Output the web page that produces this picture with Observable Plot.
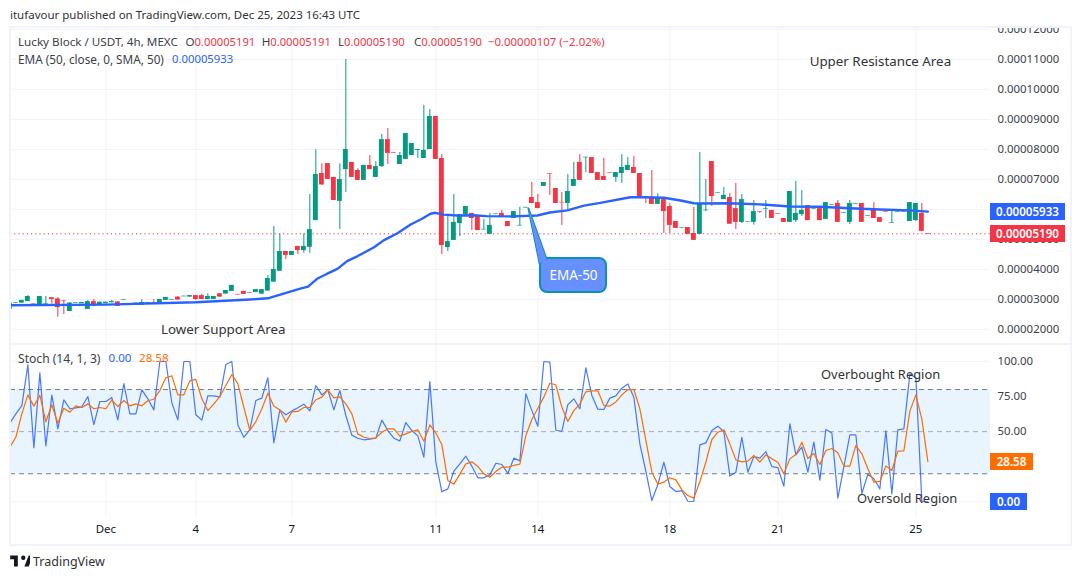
<!DOCTYPE html>
<html><head><meta charset="utf-8">
<script src="https://cdn.jsdelivr.net/npm/d3@7"></script>
<script src="https://cdn.jsdelivr.net/npm/@observablehq/plot@0.6"></script>
<style>
html,body{margin:0;padding:0;background:#fff;width:1080px;height:579px;overflow:hidden}
body{position:relative;font-family:"Noto Sans",sans-serif;color:#3c3f49}
.abs{position:absolute;white-space:pre}
.lg{font-size:11.65px}
.val{font-size:11.2px}
#frame{position:absolute;left:9px;top:26px;width:1059px;height:516px;border:2px solid #f0f3fa;pointer-events:none}
#sep{position:absolute;left:10px;top:343px;width:1060px;height:2px;background:#f0f3fa}
.badge{position:absolute;left:990px;color:#fff;font-weight:600;font-size:11.6px;text-align:center}
.red{color:#f23645}.blue{color:#2962ff}.or{color:#ff6d00}
#pricePanel,#stochPanel{position:absolute;left:0}
#pricePanel{top:27px}#stochPanel{top:345px}
</style></head><body>
<div class="abs" style="left:10px;top:7px;font-size:11.5px;color:#333">itufavour published on TradingView.com, Dec 25, 2023 16:43 UTC</div>
<div id="pricePanel"></div><div id="stochPanel"></div>
<div id="sep"></div><div id="frame"></div>
<div class="abs lg" style="left:18px;top:34px">Lucky Block / USDT, 4h, MEXC</div>
<div class="abs lg" style="left:185.5px;top:34px">O<span class="red val">0.00005191</span></div>
<div class="abs lg" style="left:261.7px;top:34px">H<span class="red val">0.00005191</span></div>
<div class="abs lg" style="left:338px;top:34px">L<span class="red val">0.00005190</span></div>
<div class="abs lg" style="left:414px;top:34px">C<span class="red val">0.00005190</span></div>
<div class="abs lg red" style="left:488px;top:34px;font-size:11.4px">−0.00000107 (−2.02%)</div>
<div class="abs" style="left:18px;top:51px;font-size:11.75px">EMA (50, close, 0, SMA, 50)</div>
<div class="abs blue" style="left:172px;top:51px;font-size:11.3px">0.00005933</div>
<div class="abs" style="left:18px;top:350px;font-size:12.1px">Stoch (14, 1, 3)</div>
<div class="abs blue" style="left:108.5px;top:350px;font-size:11.6px">0.00</div>
<div class="abs or" style="left:139px;top:350px;font-size:11.6px">28.58</div>
<div class="badge" style="top:203px;width:75px;height:17px;line-height:17px;background:#2962ff">0.00005933</div>
<div class="badge" style="top:225px;width:75px;height:17px;line-height:17px;background:#f23645">0.00005190</div>
<div class="badge" style="top:453px;width:43px;height:17px;line-height:17px;background:#ff6d00">28.58</div>
<div class="badge" style="top:493px;width:37px;height:17px;line-height:17px;background:#2962ff">0.00</div>
<svg class="abs" style="left:10px;top:555px" width="20" height="12" viewBox="0 0 36 22"><path fill="#131722" d="M14 1H0v7h7v13h7V1zm20 20h-8l8-20h8l-8 20zM24 9a4 4 0 1 0 0-8 4 4 0 0 0 0 8z"/></svg>
<div class="abs" style="left:33px;top:553px;font-size:12.5px;color:#333">TradingView</div>
<script>
// Prices in units of 0.00001 USDT, one entry per 4h candle
const opens=[2.67,2.88,2.88,2.93,2.85,2.83,2.84,3.06,3.02,2.95,
2.60,2.87,2.86,2.67,2.93,2.80,2.86,2.89,2.92,2.98,
2.85,2.81,2.81,2.87,2.90,2.87,2.97,2.98,3.08,3.09,
3.08,3.13,3.13,3.00,3.00,3.19,3.18,3.27,3.17,3.27,
3.21,3.23,3.18,3.28,3.58,3.94,4.60,4.47,4.77,4.63,
4.74,5.63,7.20,7.53,7.07,6.27,7.33,7.57,7.30,6.97,
7.47,7.07,7.43,8.33,7.89,7.50,7.67,7.80,7.97,7.70,
8.00,9.10,7.70,4.73,4.97,5.53,5.83,5.87,5.80,5.32,
5.17,5.83,5.87,5.60,5.70,5.45,6.05,6.40,6.23,6.77,
7.19,6.70,6.24,6.20,6.77,7.57,7.72,7.73,7.23,7.10,
7.23,7.07,7.20,7.30,7.40,7.20,6.42,6.40,6.17,6.33,
6.10,5.60,5.37,5.40,5.20,5.17,5.96,7.60,6.54,6.33,
6.40,6.03,5.57,5.58,5.57,5.93,6.01,5.97,5.86,5.70,
5.57,5.63,5.83,6.13,6.01,6.03,5.67,6.14,6.20,5.88,
5.57,6.18,6.20,5.78,5.97,5.73,5.93,5.54,5.91,5.91,
5.60,5.63,5.87,5.20];
const closes=[2.88,2.90,2.97,3.10,2.83,3.10,2.86,3.00,2.73,2.93,
2.88,2.89,2.90,2.93,2.77,2.91,2.91,2.93,2.77,3.00,
2.81,2.88,2.90,2.90,2.85,3.00,3.07,3.00,2.98,3.11,
3.13,3.00,3.00,3.10,3.10,3.08,3.30,3.47,3.15,3.17,
3.23,3.33,3.33,3.70,4.00,4.60,4.47,4.60,4.63,4.77,
5.33,7.17,6.82,7.00,6.30,7.00,8.00,7.07,6.97,7.47,
7.33,7.43,8.33,7.87,7.87,7.80,8.53,8.20,8.00,7.97,
9.10,7.67,4.80,4.93,5.57,5.83,6.10,5.70,5.30,5.34,
5.47,5.85,5.77,5.43,5.93,5.47,6.07,6.20,6.03,6.90,
7.17,6.20,6.22,6.60,7.00,6.97,7.74,7.20,6.97,6.97,
7.21,7.23,7.40,7.47,7.20,6.40,6.40,6.17,6.40,5.93,
5.47,5.37,5.39,5.17,4.97,6.20,5.98,6.43,6.56,6.47,
5.51,5.57,6.33,5.60,5.93,5.91,6.03,5.70,5.84,5.57,
6.60,5.87,5.97,5.63,6.03,5.63,6.23,6.16,5.57,5.90,
6.20,6.20,5.57,5.80,5.70,5.57,5.91,5.56,5.93,5.93,
6.23,6.20,5.27,5.18];
const highs=[2.88,2.90,2.97,3.13,2.85,3.10,3.10,3.06,3.06,2.97,
2.90,2.89,2.90,2.96,3.00,2.91,2.91,2.97,2.92,3.00,
2.85,2.88,3.00,2.90,3.00,3.00,3.07,3.00,3.10,3.11,
3.13,3.13,3.17,3.19,3.10,3.19,3.30,3.47,3.17,3.27,
3.23,3.33,3.33,3.80,5.43,5.19,4.60,4.60,4.77,5.19,
6.50,7.99,7.52,7.53,7.07,7.52,11.00,7.57,7.36,7.47,
7.80,7.60,8.50,8.70,7.89,7.90,8.53,8.20,8.00,9.47,
9.33,9.10,7.83,5.80,6.50,5.83,6.10,5.87,5.80,5.67,
5.87,5.85,5.97,5.60,5.93,6.07,6.07,6.90,6.50,6.90,
7.19,6.70,6.57,7.17,7.57,7.83,7.74,7.73,7.23,7.70,
7.23,7.23,7.83,7.73,7.77,7.20,6.42,7.30,6.53,6.40,
6.20,5.60,5.39,5.40,6.07,7.90,7.00,7.60,6.56,6.73,
6.53,6.87,6.50,5.60,6.30,5.93,6.30,5.97,5.86,5.70,
6.60,6.93,6.63,6.13,6.03,6.03,6.23,6.16,6.30,5.90,
6.30,6.20,6.20,5.80,6.23,5.73,5.93,5.93,5.93,5.93,
6.23,6.20,6.20,5.20];
const lows=[2.67,2.88,2.88,2.93,2.83,2.83,2.84,2.85,2.41,2.50,
2.60,2.87,2.86,2.67,2.77,2.80,2.86,2.89,2.77,2.98,
2.81,2.81,2.81,2.87,2.85,2.87,2.97,2.98,2.98,3.09,
3.08,2.97,3.00,3.00,3.00,3.08,3.18,3.27,3.15,3.17,
3.21,3.23,3.18,3.28,3.58,3.94,4.33,4.47,4.50,4.54,
4.54,5.63,6.80,7.00,6.30,5.33,6.57,7.07,6.97,6.97,
7.33,7.07,7.40,7.50,7.87,7.50,7.67,7.80,7.70,7.70,
8.00,7.67,4.50,4.60,4.97,5.10,5.83,5.30,5.30,5.32,
5.17,5.83,5.77,5.43,5.70,5.45,6.05,6.20,6.03,6.77,
6.47,6.20,5.47,5.97,6.77,6.97,7.23,7.20,6.97,6.97,
7.21,6.90,6.87,7.30,7.20,6.40,6.20,6.17,6.17,5.20,
5.20,5.37,5.37,5.17,4.97,5.17,5.93,6.10,6.54,6.33,
5.51,5.33,5.53,5.58,5.48,5.87,5.70,5.70,5.84,5.57,
5.57,5.57,5.77,5.63,6.01,5.63,5.67,6.14,5.57,5.88,
5.50,6.18,5.57,5.78,5.70,5.57,5.91,5.54,5.91,5.91,
5.60,5.60,5.27,5.18];
// EMA-50 read at candle positions
const emaIdx=[0,16,31,40,43,48.4,49.7,51.2,52.9,54.6,56.2,57.9,60.7,62.3,64.6,66.8,68.7,70.1,70.9,72.3,74.5,77.3,79.4,83.8,87.9,90,92.9,95.7,98.4,103.4,105.7,109,111.8,114,115,120,125,130,135,140,145,150,153];
const emaVal=[2.81,2.83,2.91,3.00,3.04,3.36,3.43,3.69,3.86,4.02,4.28,4.44,4.74,4.97,5.21,5.50,5.69,5.86,5.89,5.83,5.80,5.81,5.78,5.77,5.80,5.90,5.97,6.13,6.22,6.41,6.41,6.39,6.30,6.21,6.20,6.21,6.17,6.10,6.09,6.04,6.00,5.97,5.93];
// Stochastic %K and %D
const stochK=[56,62.7,68.6,97.6,38.5,91.9,39.9,76,52,72.7,
66.3,67,67.7,75,55,71.5,71.5,74.3,58.4,84.3,
62.7,62.7,79.8,73.4,65.5,100,100,70.5,58.4,100,
100,62,58.2,75.5,75.5,74.6,97.9,100,54.8,46,
51.5,72.2,73.9,88.4,42,65.5,62,64.8,67,69.6,
64.8,82.9,76.2,79.8,65.5,79.3,61.5,47.5,45.3,44.2,
44.6,45.3,58.2,50.8,45.3,43.4,56.5,50.8,47,31.8,
85.7,28.2,7.1,9.2,21.8,27,32.5,25.4,17.1,17.1,
19.2,27.5,26.6,20.2,31.1,29.2,76.9,65,53.9,100,
99.5,51,50.3,69.3,73.4,66.3,95.5,75.8,66,65.8,
73.9,75.5,81,84,74.6,41.3,21.6,0.9,12.3,28.2,
10.9,7.3,8,0.4,0.2,40.6,42,50.8,53.9,50.1,
18.3,21.1,46,21.1,32.3,31.1,35.8,25.1,24.4,11.1,
55.6,33.5,38.9,21.1,42.5,15.4,51.5,49.1,2.6,25.1,
47.7,47.7,5.9,19.7,16.4,9.2,50.6,5.7,51.3,52,
91,88.4,0.2,0];
const stochD=[38.9,46,62.7,76.2,68.2,76,57,69,56,66.7,
63.9,68.4,67.2,69.8,66.3,67.2,66.3,72.7,67.9,72.2,
68.4,69.8,68.4,72,73.1,79.3,88.4,89.8,76.2,76.2,
86.2,87.2,73.4,65,69.8,75,82.9,90.7,84,67.4,
50.8,57.2,66.3,77.4,68.2,65.5,56.8,64.1,64.4,67.2,
67.2,72.7,74.6,79.8,74.1,74.8,69.8,62.7,48.4,46,
45.1,45.6,49.6,52,52,46.8,48.4,50.1,51.3,43.2,
54.8,49.1,40.6,15.2,12.6,19.7,27,28.5,25.2,19.9,
17.5,21.6,24.7,24.7,25.9,26.8,47.2,58.7,66.7,74.6,
84.5,83.4,67.4,57.2,65,69.8,78.4,79.1,79.1,68.6,
68.2,71.2,76.2,80,80,66.3,43.7,21.1,12.6,14,
17.1,15.6,8.5,4.5,2.6,14.5,28.2,44.4,49.6,51.3,
41.3,29.9,28.5,29,33,28.2,33.5,30.6,28.2,19.9,
30.6,33.7,42.5,30.9,34.4,26.6,36.6,38,34.9,25.4,
25.4,40.1,34.2,23.5,14,14.5,25.6,22.3,36.1,36.3,
64.6,76.2,58.7,28.58];
const dayTicks=[16,31,47,71,88,110,128,151];
const dayLabels=["Dec","4","7","11","14","18","21","25"];
const priceTicks=[2,3,4,5,6,7,8,9,10,11,12];
const stochTicks=[0,25,50,75,100];
const lastClose=5.19;

const UP="#089981",DOWN="#f23645",GRID="#f0f3fa",FONT='"Noto Sans",sans-serif';
const xDom=[0.11,163.44];
const candles=opens.map((o,i)=>({i,o,c:closes[i],h:highs[i],l:lows[i],col:closes[i]>=o?UP:DOWN}));
const ema=emaIdx.map((i,k)=>({i,v:emaVal[k]}));
const stoch=stochK.map((k,i)=>({i,k,d:stochD[i]}));
const callout=[{i:86.44,v:6.03},{i:89.4,v:4.37},{i:88.3,v:4.2}];

const priceChart=Plot.plot({
  width:1080,height:317,marginLeft:10,marginRight:90,marginTop:0,marginBottom:0,
  style:{fontFamily:FONT,fontSize:"11.4px",background:"transparent",color:"#3c3f49"},
  x:{domain:xDom,axis:null},
  y:{domain:[1.5,12.0667],label:null},
  marks:[
    Plot.ruleX(dayTicks,{stroke:GRID}),
    Plot.ruleY(priceTicks,{stroke:GRID}),
    Plot.axisY(priceTicks,{anchor:"right",tickSize:0,tickPadding:7,label:null,tickFormat:d=>(d*1e-5).toFixed(8),fill:"#3c3f49"}),
    Plot.ruleY([lastClose],{stroke:DOWN,strokeDasharray:"1.2,3",strokeWidth:1}),
    Plot.ruleX(candles,{x:"i",y1:"l",y2:"h",stroke:"col",clip:true}),
    Plot.rect(candles,{x1:d=>d.i-0.41,x2:d=>d.i+0.41,y1:"o",y2:"c",fill:"col",clip:true}),
    Plot.line(ema,{x:"i",y:"v",stroke:"#2962ff",strokeWidth:2.4,clip:true}),
    Plot.line(callout,{x:"i",y:"v",stroke:"#0e8fb5",strokeWidth:2,fill:"#6690ff",curve:"linear-closed"}),
    Plot.rect([{a:88.44,b:99.44,lo:3.23,hi:4.37}],{x1:"a",x2:"b",y1:"lo",y2:"hi",fill:"#6690ff",stroke:"#0e8fb5",strokeWidth:2,rx:7}),
    Plot.line(callout,{x:"i",y:"v",fill:"#6690ff",curve:"linear-closed"}),
    Plot.text([{i:93.94,v:3.8,t:"EMA-50"}],{x:"i",y:"v",text:"t",fill:"#fff",fontSize:13.5,textAnchor:"middle"}),
    Plot.text([{i:133.3,v:10.94,t:"Upper Resistance Area"}],{x:"i",y:"v",text:"t",fill:"#333",fontSize:13.35,textAnchor:"start"}),
    Plot.text([{i:25.2,v:2.0,t:"Lower Support Area"}],{x:"i",y:"v",text:"t",fill:"#333",fontSize:13.35,textAnchor:"start"})
  ]
});
document.getElementById("pricePanel").append(priceChart);

const stochChart=Plot.plot({
  width:1080,height:199,marginLeft:10,marginRight:90,marginTop:0,marginBottom:28,
  style:{fontFamily:FONT,fontSize:"11.4px",background:"transparent",color:"#3c3f49"},
  x:{domain:xDom,label:null},
  y:{domain:[-10.48,111.4],label:null},
  marks:[
    Plot.rect([{a:xDom[0],b:xDom[1],lo:20,hi:80}],{x1:"a",x2:"b",y1:"lo",y2:"hi",fill:"#2196f3",fillOpacity:0.1}),
    Plot.ruleX(dayTicks,{stroke:GRID}),
    Plot.ruleY(stochTicks,{stroke:GRID}),
    Plot.ruleY([80,20],{stroke:"#787b86",strokeDasharray:"5,4"}),
    Plot.ruleY([50],{stroke:"#a8abb5",strokeDasharray:"5,4"}),
    Plot.axisY(stochTicks,{anchor:"right",tickSize:0,tickPadding:7,label:null,tickFormat:d=>d.toFixed(2),fill:"#3c3f49"}),
    Plot.axisX(dayTicks,{anchor:"bottom",tickSize:0,tickPadding:8,label:null,tickFormat:d=>dayLabels[dayTicks.indexOf(d)],fill:"#131722"}),
    Plot.line(stoch,{x:"i",y:"k",stroke:"#2962ff",strokeWidth:1.2,strokeOpacity:.85,clip:true}),
    Plot.line(stoch,{x:"i",y:"d",stroke:"#ff6d00",strokeWidth:1.2,clip:true}),
    Plot.text([{i:135.2,s:90.5,t:"Overbought Region"}],{x:"i",y:"s",text:"t",fill:"#333",fontSize:12.9,textAnchor:"start"}),
    Plot.text([{i:141.2,s:2.3,t:"Oversold Region"}],{x:"i",y:"s",text:"t",fill:"#333",fontSize:12.9,textAnchor:"start"})
  ]
});
document.getElementById("stochPanel").append(stochChart);
</script>
</body></html>
